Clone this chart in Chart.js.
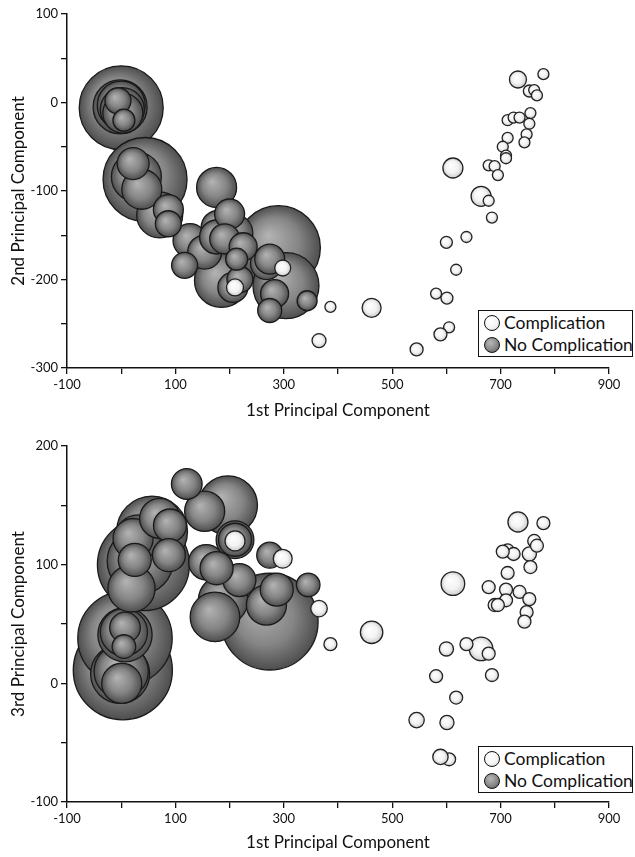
<!DOCTYPE html>
<html>
<head>
<meta charset="utf-8">
<script src="https://cdn.jsdelivr.net/npm/chart.js@4.4.1/dist/chart.umd.min.js"></script>
<style>
  body { margin: 0; background: #fff; width: 635px; height: 857px; overflow: hidden; font-family: Lato, sans-serif; }
  .panel { position: absolute; left: 0; width: 635px; }
  .legend { position: absolute; left: 478px; width: 153px; height: 45px; border: 1.5px solid #111; background: #fff; color: #111; font-size: 17.5px; }
  .legend .row { position: absolute; left: 5px; height: 22px; line-height: 22px; white-space: nowrap; }
  .dot { display: inline-block; width: 14px; height: 14px; border-radius: 50%; border: 1.5px solid #111; vertical-align: -2px; margin-right: 4px; }
  .dot.comp { background: radial-gradient(circle at 40% 35%, #fff 0%, #f4f4f4 55%, #cfcfcf 100%); }
  .dot.nocomp { background: radial-gradient(circle at 40% 35%, #b8b8b8 0%, #888 55%, #505050 100%); }
</style>
</head>
<body>
<div class="panel" style="top:0;height:428px">
  <canvas id="pc2" width="635" height="428"></canvas>
  <div class="legend" style="top:310px">
    <div class="row" style="top:1px"><span class="dot comp"></span>Complication</div>
    <div class="row" style="top:23px"><span class="dot nocomp"></span>No Complication</div>
  </div>
</div>
<div class="panel" style="top:428px;height:429px">
  <canvas id="pc3" width="635" height="429"></canvas>
  <div class="legend" style="top:318px">
    <div class="row" style="top:1px"><span class="dot comp"></span>Complication</div>
    <div class="row" style="top:23px"><span class="dot nocomp"></span>No Complication</div>
  </div>
</div>
<script>
// ── Data ─────────────────────────────────────────────────
// Complication cases: same patients in both panels
const compPC1 = [732, 779, 753, 762, 767, 755, 713, 724, 735, 753, 748, 744, 713, 704, 710, 710, 678, 689,
                 695, 612, 664, 678, 684, 600, 637, 618, 581, 601, 605, 589, 545, 462, 386, 365, 298, 210];
const compPC2 = [26, 32, 13, 14, 8, -12, -20, -17, -17, -24, -36, -45, -40, -50, -60, -63, -71, -72,
                 -82, -74, -106, -111, -130, -158, -152, -189, -216, -221, -254, -262, -279, -232, -231, -269, -187, -209];
const compPC3 = [136, 135, 109, 120, 116, 98, 112, 109, 77, 71, 60, 52, 93, 111, 79, 70, 81, 66,
                 66, 84, 29, 25, 7, 29, 33, -12, 6, -33, -64, -62, -31, 43, 33, 63, 105, 120];
const compWeight = [8.5, 5.5, 6, 5.5, 5.5, 5.5, 5.5, 5.5, 5.5, 5.5, 5.5, 5.5, 5.5, 5.5, 5.5, 5.5, 5.5, 5.5,
                    5.5, 10, 10, 5.5, 5.5, 6, 5.5, 5.5, 5.5, 6, 5.5, 6.5, 6.5, 9.5, 5.5, 7, 8, 8.5];

// No complication cases: [1st PC, 2nd PC, weight]
const noCompPC2 = [
  [0, -6, 42], [-2, -5, 27], [0, -3, 24], [2, -8, 22], [3, -12, 20], [-6, 2, 13], [5, -20, 11],
  [44, -87, 42], [28, -84, 25], [38, -98, 20], [22, -69, 16], [71, -127, 23], [87, -121, 15], [87, -137, 13],
  [176, -96, 20], [290, -164, 42], [304, -207, 33], [127, -156, 17], [154, -169, 17], [117, -184, 13],
  [179, -141, 17], [200, -126, 15], [191, -154, 15], [213, -177, 11], [225, -163, 14], [274, -177, 15],
  [219, -200, 13], [283, -216, 14], [343, -224, 10], [185, -201, 27], [274, -235, 12], [206, -209, 15],
  [268, -182, 16], [206, -148, 20], [176, -152, 17],
];
// No complication cases: [1st PC, 3rd PC, weight]
const noCompPC3 = [
  [3, 11, 42], [-2, 8, 25], [0, 10, 23], [1, 0, 17], [7, 38, 40], [7, 41, 23], [5, 43, 20], [7, 47, 13], [5, 31, 10],
  [41, 100, 39], [57, 128, 30], [35, 103, 28], [19, 80, 20], [25, 104, 14], [22, 122, 17], [31, 123, 19],
  [71, 139, 17], [90, 133, 14], [88, 108, 14], [121, 168, 13], [154, 145, 17], [197, 150, 25], [210, 121, 16],
  [210, 121, 14], [218, 87, 14], [176, 97, 14], [157, 102, 15], [274, 108, 11], [287, 79, 14], [345, 83, 10],
  [268, 66, 17], [188, 70, 21], [274, 52, 41], [173, 56, 21],
];

const xTicks = [-100, 100, 300, 500, 700, 900];

// ── Helpers ──────────────────────────────────────────────
const FONT = "Lato, 'DejaVu Sans', sans-serif";
const INK = "#111";

// shaded sphere fill, computed from the point's own pixel position
function sphere(light, mid, dark) {
  return (ctx) => {
    if (ctx.type !== "data") return mid;
    const { chart, raw } = ctx;
    const xs = chart.scales.x, ys = chart.scales.y;
    if (!xs || !ys) return mid;
    const x = xs.getPixelForValue(raw.x);
    const y = ys.getPixelForValue(raw.y);
    if (!isFinite(x) || !isFinite(y)) return mid;
    const g = chart.ctx.createRadialGradient(x - raw.r * 0.25, y - raw.r * 0.3, 0, x, y, raw.r);
    g.addColorStop(0, light);
    g.addColorStop(0.6, mid);
    g.addColorStop(1, dark);
    return g;
  };
}

function makePanel(elId, p) {
  const comp = compPC1.map((x, i) => ({ x, y: p.compY[i], r: compWeight[i] * p.scale }));
  const noComp = [...p.noComp]
    .sort((a, b) => b[2] - a[2])
    .map(([x, y, w]) => ({ x, y, r: w * p.scale }));

  return new Chart(document.getElementById(elId), {
    type: "bubble",
    data: {
      datasets: [
        {
          label: "Complication",
          data: comp,
          backgroundColor: sphere("#ffffff", "#f3f3f3", "#cdcdcd"),
          borderColor: "#222",
          borderWidth: 1.3,
          clip: false,
        },
        {
          label: "No Complication",
          data: noComp,
          backgroundColor: sphere("#b4b4b4", "#858585", "#4e4e4e"),
          borderColor: "#1a1a1a",
          borderWidth: 1.3,
          clip: false,
        },
      ],
    },
    options: {
      responsive: false,
      animation: false,
      events: [],
      layout: { autoPadding: false, padding: { top: p.padTop, right: 26, left: 0, bottom: 0 } },
      plugins: { legend: { display: false }, tooltip: { enabled: false } },
      scales: {
        x: {
          type: "linear",
          min: -100,
          max: 900,
          afterFit: (s) => { s.height = p.xAxisHeight; },
          ticks: {
            stepSize: 100,
            autoSkip: false,
            maxRotation: 0,
            padding: 3,
            color: INK,
            font: { family: FONT, size: 13 },
            callback: (v) => (xTicks.includes(v) ? String(v) : ""),
          },
          grid: { drawOnChartArea: false, tickLength: 6, color: INK, lineWidth: 1.3 },
          border: { color: INK, width: 1.5 },
          title: {
            display: true,
            text: "1st Principal Component",
            color: INK,
            font: { family: FONT, size: 17 },
            padding: { bottom: p.titlePad },
          },
        },
        y: {
          type: "linear",
          min: p.yMin,
          max: p.yMax,
          afterFit: (s) => { s.width = 67; },
          ticks: {
            stepSize: 50,
            autoSkip: false,
            padding: 3,
            color: INK,
            font: { family: FONT, size: 13 },
            callback: (v) => (v % 100 === 0 ? String(v) : ""),
          },
          grid: { drawOnChartArea: false, tickLength: 6, color: INK, lineWidth: 1.3 },
          border: { color: INK, width: 1.5 },
          title: {
            display: true,
            text: p.yTitle,
            color: INK,
            font: { family: FONT, size: 17 },
            padding: { top: 8 },
          },
        },
      },
    },
  });
}

const top2 = makePanel("pc2", {
  compY: compPC2, noComp: noCompPC2, scale: 1,
  yMin: -300, yMax: 100, yTitle: "2nd Principal Component",
  padTop: 14, xAxisHeight: 60, titlePad: 7,
});

const bottom3 = makePanel("pc3", {
  compY: compPC3, noComp: noCompPC3, scale: 1.18,
  yMin: -100, yMax: 200, yTitle: "3rd Principal Component",
  padTop: 18, xAxisHeight: 55, titlePad: 4,
});

// second pass so the sphere shading sees finished scales
top2.update("none");
bottom3.update("none");
</script>
</body>
</html>
